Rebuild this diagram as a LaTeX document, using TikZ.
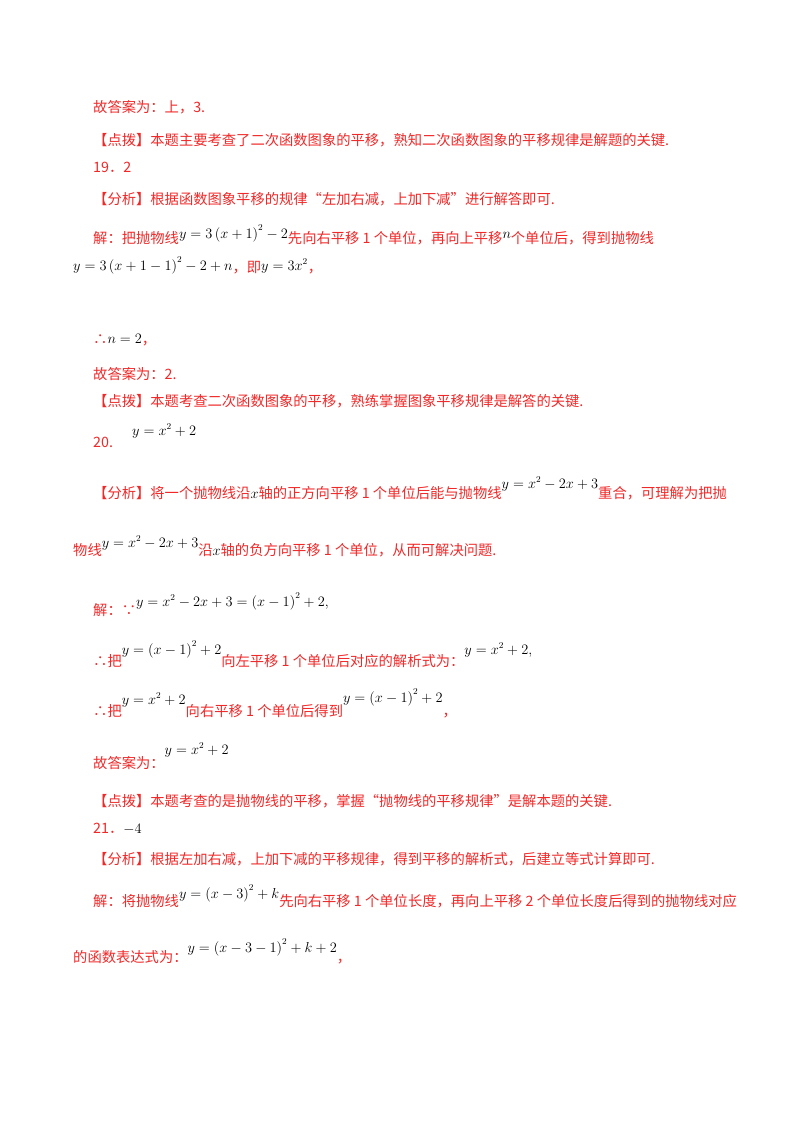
\documentclass[tikz,border=0pt]{standalone}
\usepackage{fontspec}
\setmainfont{Liberation Serif}
\newfontfamily\cjk{Noto Sans CJK SC}
\definecolor{rd}{RGB}{240,40,40}
\newcommand{\mth}[2][5pt]{\raisebox{#1}{\textcolor{black}{\fontsize{13.5}{15}\selectfont$#2$}}}
\begin{document}
\begin{tikzpicture}[x=1pt,y=-1pt,
  ln/.style={anchor=base west,inner sep=0pt,text=rd,font=\cjk\fontsize{14.3}{15}\selectfont}]
\useasboundingbox (0,0) rectangle (800,1132);
\node[ln] (l1) at (93,112) {故答案为：上，3.};
\node[ln] (l2) at (93,145) {【点拨】本题主要考查了二次函数图象的平移，熟知二次函数图象的平移规律是解题的关键.};
\node[ln] (l3) at (93,172) {19．2};
\node[ln] (l4) at (93,204) {【分析】根据函数图象平移的规律“左加右减，上加下减”进行解答即可.};
\node[ln] (l5) at (93,243) {解：把抛物线\mth{y=3\left(x+1\right)^2-2}先向右平移 1 个单位，再向上平移\mth{n}个单位后，得到抛物线};
\node[ln] (l6) at (73,272) {\mth[2pt]{y=3\left(x+1-1\right)^2-2+n}，即\mth[2pt]{y=3x^2}，};
\node[ln] (l7) at (93,344) {∴\mth[1pt]{n=2}，};
\node[ln] (l8) at (93,379) {故答案为：2.};
\node[ln] (l9) at (93,406) {【点拨】本题考查二次函数图象的平移，熟练掌握图象平移规律是解答的关键.};
\node[ln] (l10a) at (132,435) {\mth[0pt]{y=x^2+2}};
\node[ln] (l10) at (93,447) {20.};
\node[ln] (l11) at (93,498) {【分析】将一个抛物线沿\mth[0pt]{x}轴的正方向平移 1 个单位后能与抛物线\mth[10pt]{y=x^2-2x+3}重合，可理解为把抛};
\node[ln] (l12) at (73,555) {物线\mth[8pt]{y=x^2-2x+3}沿\mth[0pt]{x}轴的负方向平移 1 个单位，从而可解决问题.};
\node[ln] (l13) at (93,615) {解：∵\mth[9pt]{y=x^2-2x+3=\left(x-1\right)^2+2,}};
\node[ln] (l14) at (93,666) {∴把\mth[12pt]{y=\left(x-1\right)^2+2}向左平移 1 个单位后对应的解析式为：\mth[12pt]{y=x^2+2,}};
\node[ln] (l15) at (93,716) {∴把\mth[12pt]{y=x^2+2}向右平移 1 个单位后得到\mth[14pt]{y=\left(x-1\right)^2+2}，};
\node[ln] (l16) at (93,768) {故答案为：\mth[14pt]{y=x^2+2}};
\node[ln] (l17) at (93,806) {【点拨】本题考查的是抛物线的平移，掌握“抛物线的平移规律”是解本题的关键.};
\node[ln] (l18) at (93,833) {21．\mth[0pt]{-4}};
\node[ln] (l19) at (93,864) {【分析】根据左加右减，上加下减的平移规律，得到平移的解析式，后建立等式计算即可.};
\node[ln] (l20) at (93,906) {解：将抛物线\mth[8pt]{y=\left(x-3\right)^2+k}先向右平移 1 个单位长度，再向上平移 2 个单位长度后得到的抛物线对应};
\node[ln] (l21) at (73,962) {的函数表达式为：\mth[10pt]{y=\left(x-3-1\right)^2+k+2}，};
\end{tikzpicture}
\end{document}
